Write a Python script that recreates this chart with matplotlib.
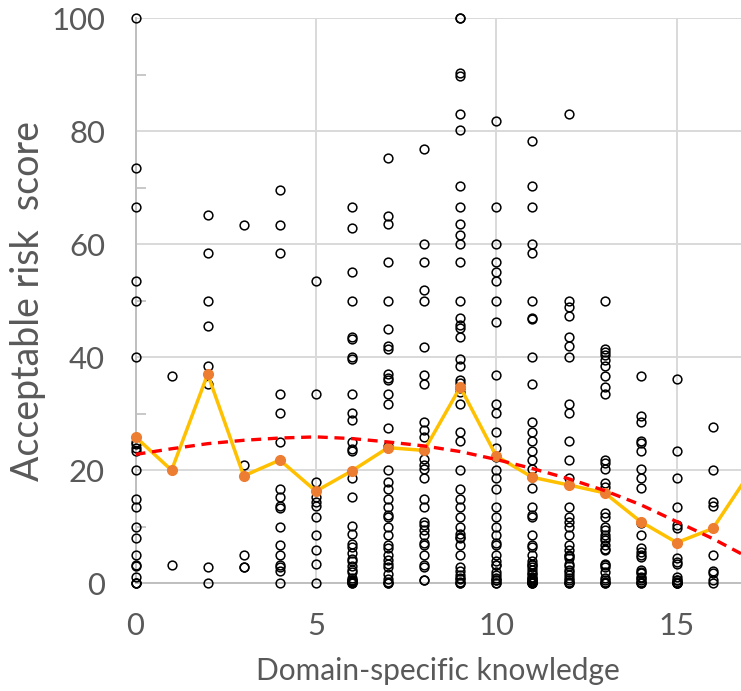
import matplotlib
matplotlib.use("Agg")
import matplotlib.pyplot as plt
from matplotlib.ticker import MultipleLocator

# ---- data ----
k0_scores = [100, 73.5, 66.6, 53.5, 50, 40, 25, 24.6, 24, 23.4, 20, 15, 13.5, 10, 8, 5, 3.3, 3, 1.2, 0, 0, 0]
k1_scores = [36.7, 3.3]
k2_scores = [65.2, 58.4, 50, 45.5, 38.5, 35.3, 2.8, 0]
k3_scores = [63.3, 21, 5, 2.8, 2.8]
k4_scores = [69.6, 63.3, 58.4, 33.4, 30.1, 25, 16.7, 15.3, 13.7, 13.4, 10, 6.7, 5, 3.3, 2.9, 2.2, 0]
k5_scores = [53.5, 33.4, 17.9, 15.3, 14.3, 13.7, 11.8, 8.5, 5.9, 3.4, 0]
k6_scores = [66.6, 62.8, 55.1, 50, 43.5, 43.2, 40, 39.6, 33.4, 30.2, 28.8, 25, 23.8, 23.4, 18.6, 15.3,
             10.2, 8.7, 6.9, 6.5, 5.3, 4.3, 3.9, 2.4, 0.6, 0.2, 0, 0, 0.4, 1, 2, 3, 0.6]
k7_scores = [75.3, 65, 63.5, 56.9, 50, 45, 41.9, 41.4, 37, 36.4, 36, 33.4, 31.7, 27.5, 24.2, 20, 17.9,
             16.7, 15, 13.5, 12.1, 11.8, 10, 8.5, 6.8, 6.2, 5, 4.1, 3.4, 2.9, 1.6, 0.7, 0, 0, 0.3]
k8_scores = [76.8, 60, 56.9, 51.9, 50, 41.8, 36.8, 35.3, 28.5, 27.1, 25.9, 23.5, 22, 21, 20.2, 18.6,
             15, 13.5, 10.9, 10.3, 9.4, 8.5, 7.1, 6.7, 5, 3.2, 2.9, 0.5, 0.5]
k9_scores = [100, 100, 90.2, 89.8, 83, 80.2, 70.2, 66.6, 63.5, 61.6, 60.1, 56.9, 50, 46.9, 45.7, 45.1,
             43.5, 39.6, 38.5, 36, 35.5, 34.5, 33.9, 31.7, 26.8, 25.2, 20, 16.7, 15, 13.5, 11.8, 10,
             8.8, 8.2, 8, 6.8, 5, 2.9, 2.2, 1.5, 0.7, 0, 0, 0.3, 1]
k10_scores = [81.8, 66.6, 60.1, 56.9, 55.1, 53.5, 50, 46.2, 36.8, 31.7, 30.2, 26.8, 24, 22.4, 20, 18.6,
              16.7, 13.5, 11.8, 10, 8.5, 7.1, 6.7, 5, 3.2, 1.5, 0.6, 0, 0, 0.5, 1, 2, 3.3, 4]
k11_scores = [78.2, 70.2, 66.6, 60.1, 58.5, 50, 46.9, 46.8, 40, 35.3, 28.5, 26.8, 25.2, 23.4, 21.8,
              20.2, 18.8, 16.8, 13.5, 12.1, 11.8, 8.5, 6.8, 3.9, 3.5, 2.4, 1.6, 0.9, 0.4, 0,
              0, 0, 0.3, 0.6, 1.2, 1.8, 2.8, 3.3, 5, 6.5, 0.2, 0.8]
k12_scores = [83, 50, 48.8, 47.2, 43.5, 41.9, 40, 31.7, 30.2, 25.2, 21.8, 18.6, 13.5, 11.8, 10.9, 10,
              8.5, 6.8, 5.9, 5, 4.4, 3.5, 2.4, 1.5, 0.6, 0, 0, 0.3, 1, 2, 3, 4.8]
k13_scores = [50, 41.4, 41, 40.4, 39.5, 38.5, 36.7, 34.7, 33.4, 21.8, 21.2, 20.2, 17.7, 17.1, 12.4,
              11.8, 10, 9.4, 8.5, 7.7, 6.8, 5.9, 3.5, 2.9, 0, 0, 0.3, 0.6, 1, 2, 3.3, 6, 8]
k14_scores = [36.7, 29.6, 28.5, 25.2, 24.8, 23.4, 20.2, 18.6, 16.8, 10.6, 8.5, 6.2, 5.6, 4.7, 2.4,
              1.8, 0.9, 0, 0, 0.3, 0.6, 1.2, 2, 5]
k15_scores = [36.1, 23.4, 18.6, 13.5, 10.3, 9.7, 4.4, 3.8, 3.4, 1.2, 0.6, 0, 0, 0, 0.3, 0.5, 0]
k16_scores = [27.6, 20, 14.3, 13.7, 5, 2.2, 1.8, 0.5, 0]

knowledge_levels = list(range(17))
columns = [k0_scores, k1_scores, k2_scores, k3_scores, k4_scores, k5_scores, k6_scores, k7_scores,
           k8_scores, k9_scores, k10_scores, k11_scores, k12_scores, k13_scores, k14_scores,
           k15_scores, k16_scores]

mean_x = list(range(18))
mean_y = [25.9, 20.0, 37.0, 19.0, 21.8, 16.3, 19.9, 24.0, 23.5, 34.7, 22.5, 18.75, 17.4, 16.0,
          10.9, 7.2, 9.7, 19.3]

trend_x = list(range(18))
trend_y = [22.8, 23.8, 24.7, 25.3, 25.7, 25.9, 25.6, 25.0, 24.3, 23.3, 21.9, 20.3, 18.5, 16.4,
           13.9, 10.9, 7.9, 4.5]

x_ticks = [0, 5, 10, 15]
y_ticks = [0, 20, 40, 60, 80, 100]
x_label = "Domain-specific knowledge"
y_label = "Acceptable risk  score"

# ---- styling ----
plt.rcParams['font.family'] = ['Lato', 'DejaVu Sans']
text_color = "#595959"
grid_color = "#d9d9d9"

W, H = 741, 691
fig = plt.figure(figsize=(W / 100, H / 100), dpi=100)
left_px, right_px, top_px, bottom_px = 135.5, 741, 18, 583.3
ax = fig.add_axes([left_px / W, (H - bottom_px) / H, (right_px - left_px) / W, (bottom_px - top_px) / H])

ax.set_xlim(0, 16.78)
ax.set_ylim(0, 100)

xs, ys = [], []
for k, col in zip(knowledge_levels, columns):
    xs.extend([k] * len(col))
    ys.extend(col)
ax.plot(xs, ys, linestyle='none', marker='o', markersize=6.3, markerfacecolor='none',
        markeredgecolor='black', markeredgewidth=1.1, clip_on=False, zorder=3)

ax.plot(mean_x, mean_y, color='#FFC000', linewidth=2.5, zorder=4, clip_on=True)
ax.plot(mean_x[:17], mean_y[:17], linestyle='none', marker='o', markersize=7,
        markerfacecolor='#ED7D31', markeredgecolor='#ED7D31', zorder=5, clip_on=False)
ax.plot(trend_x, trend_y, color='#FF0000', linewidth=2.4, linestyle=(0, (3.0, 2.0)), zorder=6)

ax.set_xticks(x_ticks)
ax.set_yticks(y_ticks)
ax.yaxis.set_minor_locator(MultipleLocator(10))
ax.grid(True, which='major', color=grid_color, linewidth=1.4, zorder=0)
ax.set_axisbelow(True)
for s in ['top', 'right']:
    ax.spines[s].set_visible(False)
for s in ['left', 'bottom']:
    ax.spines[s].set_color('#bfbfbf')
    ax.spines[s].set_linewidth(1.4)
ax.tick_params(axis='both', which='major', length=0, labelsize=22.4, colors=text_color)
ax.tick_params(axis='y', which='major', pad=22)
ax.tick_params(axis='x', which='major', pad=21)
ax.tick_params(axis='y', which='minor', direction='in', length=7, width=1.2, color='#bfbfbf')

ax.set_xlabel(x_label, fontsize=21.5, color=text_color, labelpad=12)
ax.set_ylabel(y_label, fontsize=27, color=text_color, labelpad=4)

fig.savefig("out.png", dpi=100)
